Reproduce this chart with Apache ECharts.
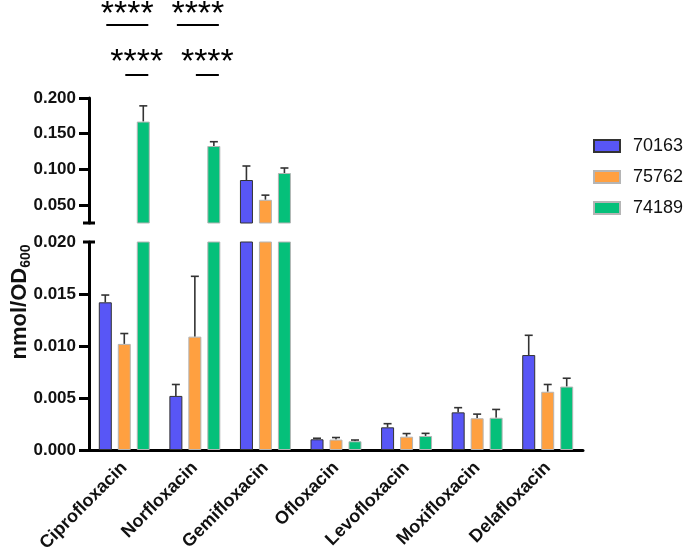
<!DOCTYPE html>
<html>
<head>
<meta charset="utf-8">
<script src="https://cdn.jsdelivr.net/npm/echarts@6/dist/echarts.min.js"></script>
<style>
  html, body { margin: 0; padding: 0; background: #fff; }
  #main { width: 689px; height: 556px; }
</style>
</head>
<body>
<div id="main"></div>
<script>
// data (mean and upper SD, nmol/OD600)
const categories = ['Ciprofloxacin', 'Norfloxacin', 'Gemifloxacin', 'Ofloxacin', 'Levofloxacin', 'Moxifloxacin', 'Delafloxacin'];
const strains = ['70163', '75762', '74189'];
const mean70163 = [0.0142, 0.0052, 0.0852, 0.00103, 0.00218, 0.00362, 0.00913];
const sd70163 = [0.0007, 0.0011, 0.0196, 0.0001, 0.00035, 0.00045, 0.0019];
const mean75762 = [0.0102, 0.0109, 0.0575, 0.0010, 0.00128, 0.00305, 0.0056];
const sd75762 = [0.0010, 0.0058, 0.0065, 0.0002, 0.0003, 0.0004, 0.0007];
const mean74189 = [0.167, 0.1328, 0.095, 0.00084, 0.00135, 0.0031, 0.0061];
const sd74189 = [0.022, 0.006, 0.007, 0.00012, 0.00025, 0.0008, 0.0008];
const lowTicks = [0, 0.005, 0.010, 0.015];
const lowLabels = [0, 0.005, 0.010, 0.015, 0.020];
const highTicks = [0.050, 0.100, 0.150, 0.200];
// significance: [category, from series, to series, row]
const sigPairs = [[0, 0, 2, 0], [0, 1, 2, 1], [1, 0, 2, 0], [1, 1, 2, 1]];

const means = [mean70163, mean75762, mean74189];
const sds = [sd70163, sd75762, sd74189];
const colors = ['#5856F6', '#FFA040', '#05C07A'];
const borders = ['#333333', '#b5b5b5', '#b5b5b5'];

const LOW_MAX = 0.020, HIGH_MIN = 0.025, HIGH_MAX = 0.200;
const BAR_W = 13, BAR_STEP = 19;

const chart = echarts.init(document.getElementById('main'));

const fontFam = '"Liberation Sans", Arial, sans-serif';
const axisLineStyle = { color: '#000', width: 3 };

function errSeries(si, gi) {
    const data = [];
    means[si].forEach(function (m, i) {
        const top = m + sds[si][i];
        if (gi === 0 && m > HIGH_MIN) data.push([i, m, top]);
        if (gi === 1 && top <= LOW_MAX) data.push([i, m, top]);
    });
    return {
        type: 'custom',
        xAxisIndex: gi, yAxisIndex: gi,
        z: 1,
        silent: true,
        clip: false,
        data: data,
        renderItem: function (params, api) {
            const off = (si - 1) * BAR_STEP;
            const p0 = api.coord([api.value(0), api.value(1)]);
            const p1 = api.coord([api.value(0), api.value(2)]);
            const x = p0[0] + off;
            const style = { stroke: '#333', lineWidth: 1.6 };
            return {
                type: 'group',
                children: [
                    { type: 'line', shape: { x1: x, y1: p0[1], x2: x, y2: p1[1] }, style: style },
                    { type: 'line', shape: { x1: x - 4, y1: p1[1], x2: x + 4, y2: p1[1] }, style: style }
                ]
            };
        }
    };
}

const series = [];
[0, 1].forEach(function (gi) {
    strains.forEach(function (name, si) {
        series.push({
            name: name,
            type: 'bar',
            xAxisIndex: gi, yAxisIndex: gi,
            barWidth: BAR_W,
            barGap: '46%',
            clip: true,
            z: 2,
            itemStyle: { color: colors[si], borderColor: borders[si], borderWidth: 1 },
            data: means[si].map(function (v) {
                if (gi === 0) return v > HIGH_MIN ? v : '-';
                return v;
            })
        });
    });
    strains.forEach(function (name, si) { series.push(errSeries(si, gi)); });
});

const labelFont = { fontSize: 17, fontWeight: 'bold', color: '#111', fontFamily: fontFam };

const option = {
    animation: false,
    textStyle: { fontFamily: fontFam },
    legend: {
        data: strains,
        orient: 'vertical',
        left: 588,
        top: 132,
        itemWidth: 26,
        itemHeight: 12,
        itemGap: 13,
        icon: 'rect',
        textStyle: { fontSize: 18, color: '#111', fontFamily: fontFam, padding: [0, 0, 0, 8] }
    },
    grid: [
        { left: 89, right: 106, top: 98, height: 125 },
        { left: 89, right: 106, top: 242, height: 208 }
    ],
    xAxis: [
        { type: 'category', gridIndex: 0, data: categories, show: false },
        {
            type: 'category', gridIndex: 1, data: categories,
            axisLine: { lineStyle: axisLineStyle },
            axisTick: { alignWithLabel: true, length: 10, lineStyle: { width: 3, color: '#000' } },
            axisLabel: Object.assign({ rotate: 45, margin: 15, interval: 0 }, labelFont, { fontSize: 18 })
        }
    ],
    yAxis: [
        {
            type: 'value', gridIndex: 0, min: HIGH_MIN, max: HIGH_MAX,
            splitLine: { show: false },
            axisLine: { show: true, lineStyle: axisLineStyle },
            axisTick: { show: true, length: 10, lineStyle: { width: 3, color: '#000' }, customValues: highTicks },
            axisLabel: Object.assign({ margin: 13, customValues: highTicks,
                formatter: function (v) { return v.toFixed(3); } }, labelFont)
        },
        {
            type: 'value', gridIndex: 1, min: 0, max: LOW_MAX,
            splitLine: { show: false },
            axisLine: { show: true, lineStyle: axisLineStyle },
            axisTick: { show: true, length: 10, lineStyle: { width: 3, color: '#000' }, customValues: lowTicks },
            axisLabel: Object.assign({ margin: 13, customValues: lowLabels,
                formatter: function (v) { return v.toFixed(3); } }, labelFont)
        }
    ],
    series: series
};

chart.setOption(option);

// break caps, axis title and significance brackets
const graphics = [];
const axisX = 89;
const yHighBottom = chart.convertToPixel({ yAxisIndex: 0 }, HIGH_MIN);
const yLowTop = chart.convertToPixel({ yAxisIndex: 1 }, LOW_MAX);
[yHighBottom, yLowTop].forEach(function (y) {
    graphics.push({ type: 'line', shape: { x1: axisX - 6, y1: y, x2: axisX + 6, y2: y },
        style: { stroke: '#000', lineWidth: 3 } });
});
graphics.push({
    type: 'text', x: 20, y: 302, rotation: Math.PI / 2,
    style: {
        text: '{a|nmol/OD}{b|600}',
        align: 'center', verticalAlign: 'middle',
        rich: {
            a: { fontSize: 22, fontWeight: 'bold', fontFamily: fontFam, fill: '#111', lineHeight: 26 },
            b: { fontSize: 14, fontWeight: 'bold', fontFamily: fontFam, fill: '#111', verticalAlign: 'bottom', padding: [10, 0, 0, 0] }
        }
    }
});
const rowY = [[-2, 25], [46, 75]];
sigPairs.forEach(function (p) {
    const cx = chart.convertToPixel({ xAxisIndex: 1 }, p[0]);
    const x1 = cx + (p[1] - 1) * BAR_STEP + 1;
    const x2 = cx + (p[2] - 1) * BAR_STEP + 5;
    const r = rowY[p[3]];
    graphics.push({ type: 'line', shape: { x1: x1, y1: r[1], x2: x2, y2: r[1] },
        style: { stroke: '#000', lineWidth: 2 } });
    graphics.push({ type: 'text', x: (x1 + x2) / 2, y: r[0],
        style: { text: '****', fontSize: 34, fontFamily: fontFam, fill: '#000', align: 'center', verticalAlign: 'top' } });
});
chart.setOption({ graphic: graphics });

window.addEventListener('resize', function () {
    chart.resize();
});
</script>
</body>
</html>
